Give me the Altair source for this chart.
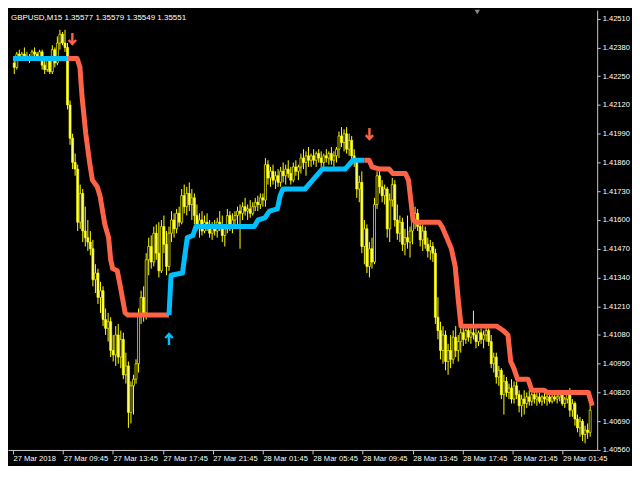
import altair as alt
import pandas as pd

# ---------------- data ----------------
symbol_text = "GBPUSD,M15  1.35577 1.35579 1.35549 1.35551"

opens = [
    1.4231,1.4229,1.4235,1.4233,1.4235,1.4234,1.4233,1.4234,1.4236,1.4235,
    1.4234,1.4236,1.4230,1.4228,1.4232,1.4227,1.4237,1.4231,1.4240,1.4244,
    1.4240,1.4238,1.4212,1.4197,1.4186,1.4183,1.4159,1.4172,1.4155,1.4152,
    1.4150,1.4147,1.4133,1.4136,1.4125,1.4128,1.4115,1.4111,1.4114,1.4101,
    1.4099,1.4108,1.4098,1.4106,1.4090,1.4094,1.4073,1.4085,1.4088,1.4095,
    1.4117,1.4125,1.4118,1.4142,1.4148,1.4141,1.4154,1.4145,1.4137,1.4157,
    1.4149,1.4139,1.4154,1.4160,1.4156,1.4163,1.4159,1.4171,1.4166,1.4172,
    1.4167,1.4170,1.4162,1.4158,1.4160,1.4155,1.4159,1.4157,1.4154,1.4157,
    1.4155,1.4159,1.4157,1.4153,1.4156,1.4162,1.4158,1.4160,1.4162,1.4164,
    1.4163,1.4166,1.4164,1.4165,1.4163,1.4166,1.4168,1.4167,1.4170,1.4169,
    1.4185,1.4179,1.4182,1.4178,1.4180,1.4177,1.4182,1.4180,1.4183,1.4181,
    1.4178,1.4184,1.4182,1.4184,1.4188,1.4186,1.4189,1.4187,1.4189,1.4187,
    1.4190,1.4188,1.4186,1.4189,1.4188,1.4190,1.4187,1.4189,1.4192,1.4198,
    1.4195,1.4199,1.4192,1.4196,1.4189,1.4186,1.4174,1.4177,1.4148,1.4156,
    1.4139,1.4147,1.4141,1.4167,1.4180,1.4175,1.4171,1.4174,1.4156,1.4169,
    1.4176,1.4160,1.4154,1.4159,1.4149,1.4152,1.4150,1.4155,1.4160,1.4163,
    1.4157,1.4151,1.4155,1.4149,1.4146,1.4148,1.4145,1.4116,1.4110,1.4101,
    1.4108,1.4096,1.4101,1.4097,1.4107,1.4101,1.4105,1.4109,1.4106,1.4110,
    1.4107,1.4109,1.4108,1.4105,1.4109,1.4106,1.4108,1.4110,1.4105,1.4095,
    1.4098,1.4089,1.4092,1.4081,1.4087,1.4082,1.4084,1.4079,1.4085,1.4081,
    1.4076,1.4079,1.4077,1.4080,1.4078,1.4081,1.4079,1.4080,1.4078,1.4080,
    1.4079,1.4080,1.4078,1.4080,1.4079,1.4080,1.4081,1.4077,1.4079,1.4081,
    1.4074,1.4077,1.4070,1.4066,1.4069,1.4063,1.4065,1.4064,
]
highs = [
    1.4233,1.4236,1.4237,1.4236,1.4238,1.4236,1.4235,1.4237,1.4238,1.4236,
    1.4237,1.4237,1.4232,1.4233,1.4234,1.4239,1.4238,1.4243,1.4246,1.4245,
    1.4246,1.4240,1.4214,1.4199,1.4190,1.4185,1.4176,1.4174,1.4166,1.4160,
    1.4155,1.4151,1.4140,1.4138,1.4132,1.4130,1.4120,1.4118,1.4116,1.4108,
    1.4112,1.4113,1.4110,1.4109,1.4100,1.4096,1.4087,1.4090,1.4097,1.4120,
    1.4128,1.4130,1.4145,1.4152,1.4153,1.4157,1.4158,1.4159,1.4160,1.4162,
    1.4155,1.4157,1.4164,1.4163,1.4165,1.4166,1.4174,1.4176,1.4175,1.4177,
    1.4174,1.4172,1.4167,1.4163,1.4164,1.4162,1.4163,1.4160,1.4159,1.4160,
    1.4161,1.4164,1.4162,1.4158,1.4165,1.4164,1.4163,1.4164,1.4166,1.4167,
    1.4168,1.4170,1.4167,1.4169,1.4168,1.4170,1.4171,1.4172,1.4172,1.4188,
    1.4187,1.4184,1.4185,1.4182,1.4183,1.4184,1.4186,1.4185,1.4187,1.4184,
    1.4186,1.4187,1.4185,1.4190,1.4192,1.4191,1.4193,1.4190,1.4192,1.4191,
    1.4192,1.4191,1.4190,1.4192,1.4191,1.4193,1.4191,1.4193,1.4200,1.4202,
    1.4201,1.4202,1.4199,1.4198,1.4192,1.4188,1.4180,1.4182,1.4160,1.4158,
    1.4150,1.4152,1.4170,1.4182,1.4182,1.4178,1.4176,1.4175,1.4172,1.4179,
    1.4178,1.4167,1.4162,1.4161,1.4156,1.4162,1.4157,1.4163,1.4166,1.4165,
    1.4160,1.4158,1.4157,1.4152,1.4151,1.4150,1.4147,1.4125,1.4114,1.4112,
    1.4110,1.4104,1.4108,1.4110,1.4112,1.4108,1.4111,1.4112,1.4111,1.4112,
    1.4111,1.4119,1.4111,1.4110,1.4111,1.4110,1.4112,1.4111,1.4108,1.4100,
    1.4100,1.4094,1.4093,1.4090,1.4089,1.4086,1.4088,1.4087,1.4087,1.4083,
    1.4081,1.4083,1.4082,1.4083,1.4082,1.4083,1.4082,1.4082,1.4081,1.4082,
    1.4081,1.4082,1.4081,1.4082,1.4081,1.4082,1.4082,1.4080,1.4083,1.4084,
    1.4079,1.4078,1.4072,1.4071,1.4070,1.4067,1.4068,1.4076,
]
lows = [
    1.4226,1.4228,1.4232,1.4232,1.4233,1.4232,1.4231,1.4233,1.4234,1.4233,
    1.4232,1.4228,1.4226,1.4227,1.4226,1.4226,1.4229,1.4230,1.4237,1.4239,
    1.4236,1.4210,1.4194,1.4183,1.4180,1.4155,1.4156,1.4150,1.4148,1.4146,
    1.4144,1.4130,1.4127,1.4122,1.4118,1.4112,1.4108,1.4105,1.4098,1.4096,
    1.4094,1.4095,1.4093,1.4088,1.4086,1.4066,1.4068,1.4072,1.4086,1.4091,
    1.4113,1.4114,1.4115,1.4135,1.4138,1.4139,1.4142,1.4134,1.4136,1.4145,
    1.4135,1.4137,1.4150,1.4152,1.4154,1.4157,1.4158,1.4163,1.4162,1.4164,
    1.4160,1.4158,1.4155,1.4152,1.4153,1.4154,1.4155,1.4152,1.4151,1.4153,
    1.4152,1.4155,1.4150,1.4148,1.4154,1.4155,1.4154,1.4156,1.4158,1.4147,
    1.4160,1.4162,1.4160,1.4161,1.4162,1.4164,1.4164,1.4165,1.4166,1.4166,
    1.4176,1.4175,1.4176,1.4174,1.4175,1.4175,1.4177,1.4176,1.4179,1.4176,
    1.4177,1.4180,1.4178,1.4181,1.4183,1.4180,1.4184,1.4184,1.4185,1.4184,
    1.4186,1.4184,1.4184,1.4186,1.4185,1.4185,1.4184,1.4186,1.4188,1.4193,
    1.4191,1.4190,1.4189,1.4187,1.4184,1.4170,1.4168,1.4145,1.4140,1.4136,
    1.4134,1.4138,1.4140,1.4165,1.4172,1.4168,1.4167,1.4152,1.4150,1.4166,
    1.4157,1.4151,1.4150,1.4146,1.4144,1.4147,1.4143,1.4149,1.4156,1.4155,
    1.4148,1.4146,1.4147,1.4143,1.4142,1.4141,1.4113,1.4106,1.4097,1.4095,
    1.4092,1.4090,1.4093,1.4095,1.4098,1.4096,1.4100,1.4103,1.4104,1.4105,
    1.4104,1.4106,1.4102,1.4103,1.4104,1.4102,1.4105,1.4103,1.4093,1.4091,
    1.4086,1.4085,1.4079,1.4072,1.4080,1.4079,1.4077,1.4077,1.4079,1.4073,
    1.4071,1.4072,1.4075,1.4076,1.4076,1.4077,1.4076,1.4077,1.4076,1.4077,
    1.4076,1.4077,1.4077,1.4078,1.4077,1.4078,1.4076,1.4075,1.4077,1.4071,
    1.4071,1.4067,1.4064,1.4062,1.4060,1.4059,1.4061,1.4062,
]
closes = [
    1.4229,1.4235,1.4233,1.4235,1.4234,1.4233,1.4234,1.4236,1.4235,1.4234,
    1.4236,1.4230,1.4228,1.4232,1.4227,1.4237,1.4231,1.4240,1.4244,1.4240,
    1.4238,1.4212,1.4197,1.4186,1.4183,1.4159,1.4172,1.4155,1.4152,1.4150,
    1.4147,1.4133,1.4136,1.4125,1.4128,1.4115,1.4111,1.4114,1.4101,1.4099,
    1.4108,1.4098,1.4106,1.4090,1.4094,1.4073,1.4085,1.4088,1.4095,1.4117,
    1.4125,1.4118,1.4142,1.4148,1.4141,1.4154,1.4145,1.4137,1.4157,1.4149,
    1.4139,1.4154,1.4160,1.4156,1.4163,1.4159,1.4171,1.4166,1.4172,1.4167,
    1.4170,1.4162,1.4158,1.4160,1.4155,1.4159,1.4157,1.4154,1.4157,1.4155,
    1.4159,1.4157,1.4153,1.4156,1.4162,1.4158,1.4160,1.4162,1.4164,1.4163,
    1.4166,1.4164,1.4165,1.4163,1.4166,1.4168,1.4167,1.4170,1.4169,1.4185,
    1.4179,1.4182,1.4178,1.4180,1.4177,1.4182,1.4180,1.4183,1.4181,1.4178,
    1.4184,1.4182,1.4184,1.4188,1.4186,1.4189,1.4187,1.4189,1.4187,1.4190,
    1.4188,1.4186,1.4189,1.4188,1.4190,1.4187,1.4189,1.4192,1.4198,1.4195,
    1.4199,1.4192,1.4196,1.4189,1.4186,1.4174,1.4177,1.4148,1.4156,1.4139,
    1.4147,1.4141,1.4167,1.4180,1.4175,1.4171,1.4174,1.4156,1.4169,1.4176,
    1.4160,1.4154,1.4159,1.4149,1.4152,1.4150,1.4155,1.4160,1.4163,1.4157,
    1.4151,1.4155,1.4149,1.4146,1.4148,1.4145,1.4116,1.4110,1.4101,1.4108,
    1.4096,1.4101,1.4097,1.4107,1.4101,1.4105,1.4109,1.4106,1.4110,1.4107,
    1.4109,1.4108,1.4105,1.4109,1.4106,1.4108,1.4110,1.4105,1.4095,1.4098,
    1.4089,1.4092,1.4081,1.4087,1.4082,1.4084,1.4079,1.4085,1.4081,1.4076,
    1.4079,1.4077,1.4080,1.4078,1.4081,1.4079,1.4080,1.4078,1.4080,1.4079,
    1.4080,1.4078,1.4080,1.4079,1.4080,1.4081,1.4077,1.4079,1.4081,1.4074,
    1.4077,1.4070,1.4066,1.4069,1.4063,1.4065,1.4064,1.4074,
]

# trend (stop) line vertices: bar position, price, segment
trend_pos = [
    -0.5, 21.0,
    21.0, 24.8, 25.9, 26.7, 28.2, 29.7, 30.8, 32.7, 33.8, 35.7, 37.2, 38.0, 38.8, 40.6, 41.8, 43.7, 44.8, 61.0,
    61.0, 61.8, 66.3, 68.2, 70.4, 71.6, 94.6, 96.1, 98.8, 100.6, 103.7, 104.8, 105.9, 114.6, 118.4, 121.4, 130.4, 133.5, 138.0,
    138.0, 139.9, 141.0, 144.0, 147.8, 149.3, 154.2, 155.4, 157.2, 158.4, 167.4, 168.6, 170.5, 172.3, 173.8, 175.0, 176.1,
    190.1, 192.7, 194.6, 195.7, 196.9, 198.4, 202.5, 204.0, 208.9, 210.1, 226.3, 227.8,
]
trend_price = [
    1.4233, 1.4233,
    1.4233, 1.4233, 1.4229, 1.4216, 1.4199, 1.4186, 1.4178, 1.4175, 1.4171, 1.4158, 1.4152, 1.4142, 1.4138, 1.4137, 1.4130, 1.4118, 1.4117, 1.4117,
    1.4117, 1.4135, 1.4136, 1.4152, 1.4153, 1.4157, 1.4157, 1.4160, 1.4161, 1.4164, 1.4165, 1.4171, 1.4174, 1.4174, 1.4179, 1.4183, 1.4183, 1.4187, 1.4187,
    1.4187, 1.4187, 1.4184, 1.4183, 1.4183, 1.4181, 1.4181, 1.4178, 1.4160, 1.4159, 1.4159, 1.4157, 1.4152, 1.4147, 1.4139, 1.4124, 1.4112,
    1.4112, 1.4110, 1.4108, 1.4096, 1.4093, 1.4088, 1.4088, 1.4083, 1.4083, 1.4082, 1.4082, 1.4076,
]
trend_seg = (["up1"] * 2 + ["down1"] * 18 + ["up2"] * 19 + ["down2"] * 29)

# signal arrows
arrow_pos = [22.9, 61.0, 140.0]
arrow_price = [1.4242, 1.4106, 1.4199]
arrow_kind = ["sell", "buy", "sell"]

# axes
price_ticks = [1.40560, 1.40690, 1.40820, 1.40950, 1.41080, 1.41210, 1.41340, 1.41470,
               1.41600, 1.41730, 1.41860, 1.41990, 1.42120, 1.42250, 1.42380, 1.42510]
time_tick_pos = [-0.5, 19.3, 38.9, 58.6, 78.2, 98.0, 117.7, 137.3, 157.1, 176.7, 196.5, 216.1]
time_labels = ["27 Mar 2018", "27 Mar 09:45", "27 Mar 13:45", "27 Mar 17:45", "27 Mar 21:45",
               "28 Mar 01:45", "28 Mar 05:45", "28 Mar 09:45", "28 Mar 13:45", "28 Mar 17:45",
               "28 Mar 21:45", "29 Mar 01:45"]
shift_marker_pos = [182.5]

# ---------------- styling ----------------
BG = "#000000"
CANDLE = "#ffff00"
BEAR_FILL = "#ffff70"
BULL_FILL = "#000000"
RED = "#ff6347"
BLUE = "#00bfff"
AXIS = "#c8c8c8"
FONT = "Liberation Sans"

n = len(closes)
assert len(opens) == len(highs) == len(lows) == n
assert len(trend_pos) == len(trend_price) == len(trend_seg)

candles = pd.DataFrame({
    "i": list(range(n)), "o": opens, "h": highs, "l": lows, "c": closes,
    "dir": ["bull" if c > o else "bear" for o, c in zip(opens, closes)],
})
trend = pd.DataFrame({"i": trend_pos, "p": trend_price, "seg": trend_seg,
                      "k": list(range(len(trend_pos)))})
arrows = pd.DataFrame({"i": arrow_pos, "p": arrow_price, "kind": arrow_kind})

label_expr = ("[" + ",".join("'%s'" % s for s in time_labels) + "][indexof(["
              + ",".join(str(v) for v in time_tick_pos) + "], datum.value)]")

x_scale = alt.Scale(domain=[-0.5, 227.8], nice=False, zero=False)
y_scale = alt.Scale(domain=[1.40560, 1.42549], nice=False, zero=False)

x_axis = alt.Axis(title=None, values=time_tick_pos, labelExpr=label_expr, labelAlign="left",
                  labelFlush=False, labelOverlap=False, labelBound=False, tickSize=4,
                  labelPadding=1, grid=False, domainColor=AXIS, tickColor=AXIS,
                  labelColor="white", labelFontSize=7.6, labelFont=FONT, domainWidth=1)
y_axis = alt.Axis(title=None, orient="right", values=price_ticks, format=".5f", tickSize=3,
                  labelPadding=2, grid=False, domainColor=AXIS, tickColor=AXIS,
                  labelColor="white", labelFontSize=7.6, labelFont=FONT, labelBaseline="middle",
                  labelOverlap=False, labelBound=False, labelFlush=False, domainWidth=1)


def X(field):
    return alt.X(field, type="quantitative", scale=x_scale, axis=x_axis)


def Y(field):
    return alt.Y(field, type="quantitative", scale=y_scale, axis=y_axis)


base = alt.Chart(candles)

wicks = base.mark_rule(color=CANDLE, strokeWidth=1, clip=True).encode(
    x=X("i"), y=Y("l"), y2="h")

bodies = base.mark_bar(size=2.0, stroke=CANDLE, strokeWidth=0.7, clip=True).encode(
    x=X("i"), y=Y("o"), y2="c",
    fill=alt.Fill("dir:N", scale=alt.Scale(domain=["bull", "bear"], range=[BULL_FILL, BEAR_FILL]),
                  legend=None))

trend_line = alt.Chart(trend).mark_line(strokeWidth=5, strokeJoin="round", clip=True).encode(
    x=X("i"), y=Y("p"), order="k:Q",
    color=alt.Color("seg:N", scale=alt.Scale(domain=["up1", "down1", "up2", "down2"],
                                             range=[BLUE, RED, BLUE, RED]), legend=None),
    detail="seg:N")

down_path = "M0,-1 L0,0.9 M-0.65,0.25 L0,0.95 L0.65,0.25"
up_path = "M0,1 L0,-0.9 M-0.65,-0.25 L0,-0.95 L0.65,-0.25"

sell_arrows = alt.Chart(arrows).transform_filter(alt.datum.kind == "sell").mark_point(
    shape=down_path, filled=False, strokeWidth=2.4, size=130, color=RED, opacity=1).encode(
    x=X("i"), y=Y("p"))
buy_arrows = alt.Chart(arrows).transform_filter(alt.datum.kind == "buy").mark_point(
    shape=up_path, filled=False, strokeWidth=2.4, size=130, color=BLUE, opacity=1).encode(
    x=X("i"), y=Y("p"))

marker = alt.Chart(pd.DataFrame({"i": shift_marker_pos})).mark_point(
    shape="triangle-down", filled=True, color="#8c8c8c", size=28, opacity=1).encode(
    x=X("i"), y=alt.value(2))

title = alt.Chart(pd.DataFrame({"t": [symbol_text]})).mark_text(
    align="left", baseline="middle", color="white", font=FONT, fontSize=8).encode(
    x=alt.value(3), y=alt.value(8), text="t:N")

chart = alt.layer(wicks, bodies, trend_line, sell_arrows, buy_arrows, marker, title).properties(
    width=592, height=442, background=BG,
    padding={"left": 0, "top": 0, "right": 2, "bottom": 2},
).configure_view(stroke=None)

chart.save("out.html", embed_options={"renderer": "svg", "actions": False})
